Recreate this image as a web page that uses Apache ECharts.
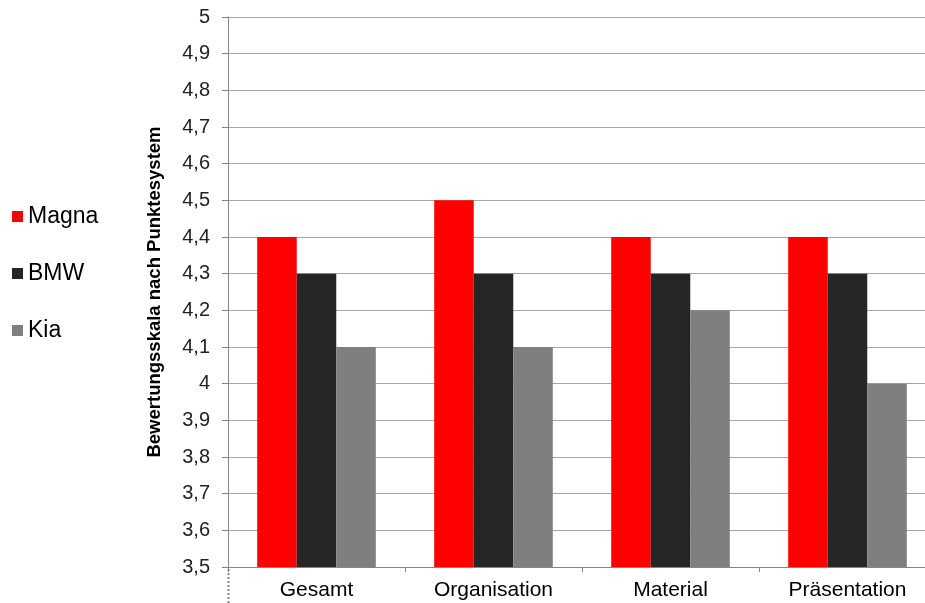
<!DOCTYPE html>
<html>
<head>
<meta charset="utf-8">
<script src="https://cdn.jsdelivr.net/npm/echarts@6/dist/echarts.min.js"></script>
<style>
html,body{margin:0;padding:0;background:#fff;overflow:hidden;}
#c{width:950px;height:603px;}
</style>
</head>
<body>
<div id="c"></div>
<script>
const categories = ['Gesamt', 'Organisation', 'Material', 'Präsentation'];
const magna = [4.4, 4.5, 4.4, 4.4];
const bmw = [4.3, 4.3, 4.3, 4.3];
const kia = [4.1, 4.1, 4.2, 4.0];
const seriesNames = ['Magna', 'BMW', 'Kia'];
const yName = 'Bewertungsskala nach Punktesystem';

const chart = echarts.init(document.getElementById('c'));
const font = 'Liberation Sans, Arial, sans-serif';
function fmt(v){
  const r = Math.round(v*10)/10;
  return (Math.abs(r - Math.round(r)) < 1e-9 ? String(Math.round(r)) : r.toFixed(1)).replace('.', ',');
}
chart.setOption({
  animation: false,
  backgroundColor: '#fff',
  textStyle: {fontFamily: font},
  legend: {
    orient: 'vertical', left: 7, top: 200,
    itemWidth: 11, itemHeight: 11, itemGap: 34,
    icon: 'rect',
    textStyle: {fontSize: 23, color: '#000', fontFamily: font},
    data: seriesNames
  },
  grid: {left: 228, top: 17, width: 708, height: 550, containLabel: false},
  xAxis: {
    type: 'category', data: categories,
    axisLine: {lineStyle: {color: '#868686', width: 1}},
    axisTick: {show: true, length: 5, lineStyle: {color: '#868686'}},
    axisLabel: {fontSize: 21, color: '#000', margin: 13, fontFamily: font}
  },
  yAxis: {
    type: 'value', min: 3.5, max: 5, interval: 0.1,
    name: yName, nameLocation: 'middle', nameGap: 64, nameRotate: 90,
    nameTextStyle: {fontSize: 18.5, fontWeight: 'bold', color: '#000', fontFamily: font},
    axisLine: {show: true, lineStyle: {color: '#868686'}},
    axisTick: {show: true, inside: false, length: 6, lineStyle: {color: '#868686'}},
    axisLabel: {fontSize: 20, color: '#222', margin: 18, formatter: fmt, fontFamily: font},
    splitLine: {show: true, lineStyle: {color: '#a6a6a6', width: 1}}
  },
  series: [
    {name: seriesNames[0], type: 'bar', data: magna, itemStyle: {color: '#ff0000'}, barGap: '0%', barCategoryGap: '33%'},
    {name: seriesNames[1], type: 'bar', data: bmw, itemStyle: {color: '#262626'}, barGap: '0%', barCategoryGap: '33%'},
    {name: seriesNames[2], type: 'bar', data: kia, itemStyle: {color: '#7f7f7f'}, barGap: '0%', barCategoryGap: '33%'}
  ],
  graphic: [{
    type: 'line', shape: {x1: 228.5, y1: 569, x2: 228.5, y2: 603},
    style: {stroke: '#868686', lineWidth: 2, lineDash: [2, 2]}
  }]
});
</script>
</body>
</html>
